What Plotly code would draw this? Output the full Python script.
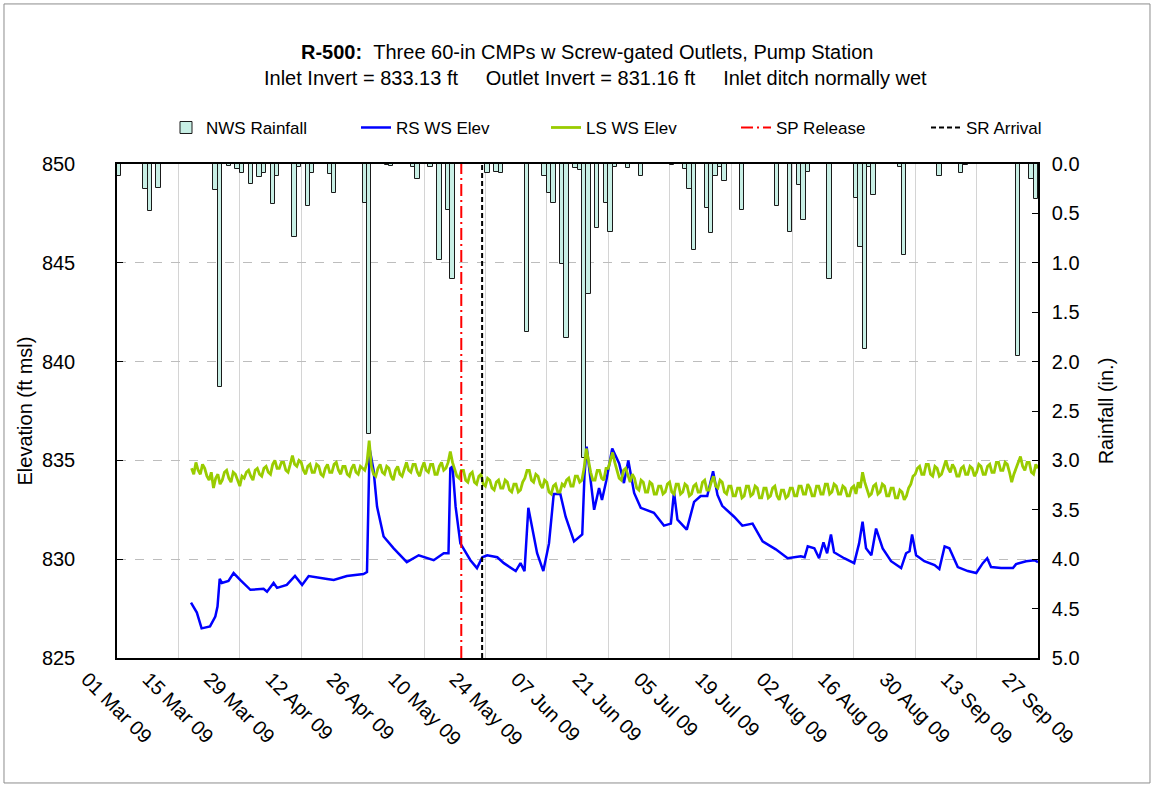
import pandas as pd
import plotly.graph_objects as go

# ---------------- data ----------------
rain_dates = ["2009-03-01", "2009-03-07", "2009-03-08", "2009-03-10", "2009-03-23", "2009-03-24",
              "2009-03-26", "2009-03-28", "2009-03-29", "2009-03-31", "2009-04-02", "2009-04-03",
              "2009-04-05", "2009-04-06", "2009-04-10", "2009-04-11", "2009-04-13", "2009-04-14",
              "2009-04-18", "2009-04-19", "2009-04-26", "2009-04-27", "2009-05-01", "2009-05-02",
              "2009-05-07", "2009-05-08", "2009-05-11", "2009-05-13", "2009-05-15", "2009-05-16",
              "2009-05-24", "2009-05-26", "2009-05-27", "2009-06-02", "2009-06-06", "2009-06-07",
              "2009-06-08", "2009-06-10", "2009-06-11", "2009-06-13", "2009-06-14", "2009-06-15",
              "2009-06-16", "2009-06-18", "2009-06-20", "2009-06-21", "2009-06-22", "2009-06-25",
              "2009-06-28", "2009-07-05", "2009-07-08", "2009-07-09", "2009-07-10", "2009-07-13",
              "2009-07-14", "2009-07-15", "2009-07-16", "2009-07-17", "2009-07-21", "2009-07-29",
              "2009-08-01", "2009-08-03", "2009-08-04", "2009-08-05", "2009-08-10", "2009-08-16",
              "2009-08-17", "2009-08-18", "2009-08-19", "2009-08-20", "2009-08-26", "2009-08-27",
              "2009-09-04", "2009-09-09", "2009-09-10", "2009-09-22", "2009-09-25", "2009-09-26"]
rain_in = [0.12, 0.25, 0.48, 0.24, 0.26, 2.26,
           0.02, 0.05, 0.09, 0.20, 0.13, 0.09,
           0.40, 0.12, 0.74, 0.03, 0.43, 0.09,
           0.10, 0.29, 0.39, 2.73, 0.01, 0.02,
           0.03, 0.15, 0.03, 0.97, 0.47, 1.16,
           0.09, 0.08, 0.09, 1.70, 0.12, 0.29,
           0.39, 1.01, 1.76, 0.04, 0.06, 2.98,
           1.32, 0.65, 0.39, 0.69, 0.03, 0.04,
           0.12, 0.01, 0.05, 0.25, 0.87, 0.45,
           0.70, 0.12, 0.03, 0.17, 0.47, 0.42,
           0.69, 0.21, 0.57, 0.08, 1.16, 0.34,
           0.84, 1.87, 0.03, 0.31, 0.03, 0.92,
           0.12, 0.09, 0.01, 1.94, 0.15, 0.35]

rs_times = ["2009-03-17 21:00", "2009-03-19 05:00", "2009-03-20 07:00", "2009-03-22 05:00",
            "2009-03-23 10:00", "2009-03-23 22:00", "2009-03-24 10:00", "2009-03-24 22:00",
            "2009-03-26 10:00", "2009-03-27 14:00", "2009-03-29 02:00", "2009-03-31 10:00",
            "2009-04-03 10:00", "2009-04-04 05:00", "2009-04-05 17:00", "2009-04-06 12:00",
            "2009-04-08 17:00", "2009-04-10 14:00", "2009-04-12 05:00", "2009-04-13 17:00",
            "2009-04-17 22:00", "2009-04-19 10:00", "2009-04-22 10:00", "2009-04-26 05:00",
            "2009-04-27 00:00", "2009-04-27 07:00", "2009-04-27 14:00", "2009-04-28 12:00",
            "2009-04-29 07:00", "2009-04-30 19:00", "2009-05-03 02:00", "2009-05-06 02:00",
            "2009-05-08 19:00", "2009-05-12 05:00", "2009-05-14 12:00", "2009-05-15 14:00",
            "2009-05-16 00:00", "2009-05-16 12:00", "2009-05-17 05:00", "2009-05-18 07:00",
            "2009-05-20 14:00", "2009-05-22 02:00", "2009-05-23 07:00", "2009-05-24 10:00",
            "2009-05-26 17:00", "2009-05-28 05:00", "2009-05-30 22:00", "2009-06-01 00:00",
            "2009-06-01 22:00", "2009-06-02 19:00", "2009-06-03 17:00", "2009-06-04 19:00",
            "2009-06-06 05:00", "2009-06-07 12:00", "2009-06-08 14:00", "2009-06-10 02:00",
            "2009-06-11 07:00", "2009-06-13 05:00", "2009-06-15 02:00", "2009-06-15 14:00",
            "2009-06-16 02:00", "2009-06-16 14:00", "2009-06-17 19:00", "2009-06-18 22:00",
            "2009-06-19 14:00", "2009-06-20 14:00", "2009-06-21 22:00", "2009-06-23 12:00",
            "2009-06-24 14:00", "2009-06-25 14:00", "2009-06-26 22:00", "2009-06-28 10:00",
            "2009-07-01 10:00", "2009-07-03 17:00", "2009-07-05 07:00", "2009-07-06 00:00",
            "2009-07-06 19:00", "2009-07-08 22:00", "2009-07-10 14:00", "2009-07-12 02:00",
            "2009-07-13 14:00", "2009-07-14 22:00", "2009-07-15 22:00", "2009-07-17 00:00",
            "2009-07-19 17:00", "2009-07-21 14:00", "2009-07-23 22:00", "2009-07-26 05:00",
            "2009-07-29 05:00", "2009-07-31 22:00", "2009-08-03 22:00", "2009-08-04 19:00",
            "2009-08-05 12:00", "2009-08-07 00:00", "2009-08-08 02:00", "2009-08-09 02:00",
            "2009-08-09 22:00", "2009-08-10 19:00", "2009-08-11 12:00", "2009-08-13 19:00",
            "2009-08-16 02:00", "2009-08-17 05:00", "2009-08-18 00:00", "2009-08-18 19:00",
            "2009-08-20 00:00", "2009-08-21 02:00", "2009-08-22 14:00", "2009-08-24 12:00",
            "2009-08-26 19:00", "2009-08-27 22:00", "2009-08-28 17:00", "2009-08-29 07:00",
            "2009-08-30 05:00", "2009-09-01 02:00", "2009-09-03 10:00", "2009-09-04 12:00",
            "2009-09-05 17:00", "2009-09-06 19:00", "2009-09-08 17:00", "2009-09-11 00:00",
            "2009-09-12 22:00", "2009-09-14 10:00", "2009-09-15 10:00", "2009-09-16 07:00",
            "2009-09-18 14:00", "2009-09-21 07:00", "2009-09-22 00:00", "2009-09-24 07:00",
            "2009-09-26 05:00", "2009-09-27 00:00"]
rs_elev = [827.8, 827.3, 826.5, 826.6,
           827.1, 827.6, 829.0, 828.8,
           828.9, 829.3, 828.95, 828.45,
           828.5, 828.35, 828.8, 828.55,
           828.7, 829.15, 828.7, 829.15,
           829.0, 828.95, 829.15, 829.25,
           829.35, 833.7, 835.6, 834.5,
           832.66, 831.15, 830.55, 829.85,
           830.2, 829.95, 830.3, 830.3,
           834.6, 834.7, 832.66, 830.8,
           829.95, 829.55, 830.1, 830.2,
           830.1, 829.8, 829.4, 829.8,
           829.4, 832.6, 831.5, 830.3,
           829.4, 830.8, 833.3, 833.3,
           832.15, 830.9, 831.25, 834.2,
           835.7, 834.7, 832.5, 833.6,
           833.0, 834.0, 835.6, 834.85,
           833.85, 835.0, 833.35, 832.6,
           832.35, 831.7, 831.8, 833.4,
           832.0, 831.5, 832.9, 833.2,
           833.2, 834.45, 833.25, 832.7,
           832.15, 831.7, 831.8, 830.9,
           830.5, 830.05, 830.15, 830.1,
           830.65, 830.55, 830.05, 830.85,
           830.3, 831.25, 830.35, 830.05,
           829.8, 830.8, 831.9, 830.55,
           830.2, 831.55, 830.55, 829.9,
           829.55, 830.3, 830.4, 831.25,
           830.2, 829.9, 829.7, 829.5,
           830.65, 830.55, 829.6, 829.4,
           829.3, 829.8, 830.05, 829.6,
           829.55, 829.55, 829.75, 829.9,
           829.95, 829.85]

ls_start = "2009-03-18"   # readings every 12 hours from this date
ls_elev = [834.6, 834.3, 834.9, 834.5, 834.3, 834.8, 834.6, 834.2, 834.0, 834.4,
           833.6, 834.1, 834.3, 833.8, 834.0, 834.4, 834.5, 834.1, 833.9, 834.4,
           834.3, 834.0, 833.7, 834.2, 834.1, 834.4, 834.5, 834.2, 834.0, 834.5,
           834.6, 834.3, 834.2, 834.6, 834.7, 834.4, 834.3, 834.8, 835.0, 834.6,
           834.6, 834.9, 834.9, 834.5, 834.4, 834.8, 835.25, 834.8, 834.7, 835.0,
           834.9, 834.5, 834.3, 834.7, 834.8, 834.4, 834.4, 834.8, 834.7, 834.3,
           834.2, 834.6, 834.8, 834.4, 834.4, 834.8, 834.9, 834.5, 834.3, 834.7,
           834.7, 834.3, 834.2, 834.6, 834.8, 834.4, 834.3, 834.7, 834.6, 834.5,
           834.9, 836.0, 834.7, 834.3, 834.2, 834.6, 834.8, 834.4, 834.3, 834.7,
           834.6, 834.2, 834.0, 834.5, 834.7, 834.3, 834.2, 834.6, 834.9, 834.5,
           834.4, 834.8, 834.8, 834.4, 834.2, 834.6, 834.9, 834.5, 834.4, 834.8,
           834.8, 834.3, 834.3, 834.7, 834.9, 834.5, 834.6, 834.9, 835.45, 834.9,
           834.5, 834.2, 834.1, 834.5, 834.5, 834.0, 833.9, 834.3, 834.4, 833.9,
           833.8, 834.2, 834.3, 833.8, 833.7, 834.1, 834.0, 833.6, 833.5, 833.9,
           834.0, 833.6, 833.6, 834.0, 833.9, 833.5, 833.4, 833.8, 833.8, 833.4,
           833.5, 833.9, 834.1, 834.5, 834.5, 834.0, 833.9, 834.3, 834.2, 833.8,
           833.6, 834.0, 833.9, 833.4, 833.3, 833.7, 833.8, 833.4, 833.4, 833.8,
           833.7, 834.0, 834.1, 833.7, 833.7, 834.2, 834.2, 833.9, 834.0, 834.6,
           835.6, 834.9, 834.4, 834.0, 834.0, 834.5, 834.5, 834.1, 834.0, 834.6,
           834.6, 835.0, 835.4, 834.9, 834.5, 834.1, 834.0, 834.5, 834.6, 834.2,
           833.9, 834.3, 834.1, 833.6, 833.5, 834.0, 833.9, 833.4, 833.4, 833.9,
           833.8, 833.3, 833.3, 833.7, 833.7, 833.3, 833.4, 833.8, 833.9, 833.4,
           833.3, 833.8, 833.8, 833.3, 833.4, 833.8, 833.7, 833.2, 833.3, 833.7,
           833.8, 833.4, 833.4, 833.9, 834.0, 833.5, 833.5, 833.9, 834.2, 833.7,
           833.6, 834.0, 833.9, 833.4, 833.3, 833.7, 833.7, 833.2, 833.2, 833.6,
           833.6, 833.1, 833.2, 833.7, 833.7, 833.2, 833.3, 833.7, 833.6, 833.1,
           833.1, 833.6, 833.6, 833.1, 833.2, 833.6, 833.7, 833.2, 833.0, 833.5,
           833.5, 833.1, 833.2, 833.6, 833.6, 833.2, 833.2, 833.7, 833.7, 833.3,
           833.3, 833.8, 833.6, 833.2, 833.2, 833.7, 833.7, 833.3, 833.3, 833.8,
           833.8, 833.3, 833.4, 833.8, 833.7, 833.3, 833.3, 833.7, 833.6, 833.2,
           833.2, 833.6, 833.7, 833.3, 833.9, 833.6, 834.4, 833.9, 833.6, 833.2,
           833.3, 833.7, 833.8, 833.3, 833.4, 833.8, 833.7, 833.2, 833.2, 833.6,
           833.6, 833.1, 833.1, 833.5, 833.4, 833.0, 833.2, 833.6, 833.8, 834.2,
           834.3, 834.6, 834.7, 834.3, 834.3, 834.8, 834.8, 834.3, 834.2, 834.7,
           834.6, 834.2, 834.3, 834.7, 835.0, 834.6, 834.4, 834.8, 834.6, 834.2,
           834.2, 834.6, 834.7, 834.3, 834.3, 834.7, 834.6, 834.2, 834.4, 834.8,
           834.7, 834.3, 834.3, 834.7, 834.8, 834.4, 834.4, 834.9, 834.9, 834.5,
           834.5, 834.9, 834.8, 834.4, 833.9, 834.3, 834.6, 834.9, 835.2, 834.7,
           834.5, 834.9, 834.9, 834.4, 834.3, 834.8, 834.6]

sp_release = "2009-05-18 12:00"
sr_arrival = "2009-05-23 06:00"
elev_range = [825, 850]
rain_range = [5, 0]

# ---------------- figure ----------------
FONT = "Arial, 'Liberation Sans', sans-serif"
rain_x = pd.to_datetime(rain_dates) + pd.Timedelta(hours=12)
ls_x = pd.date_range(ls_start, periods=len(ls_elev), freq="12h")

fig = go.Figure()
fig.add_trace(go.Bar(x=rain_x, y=rain_in, name="NWS Rainfall", yaxis="y",
                     width=86400000, marker=dict(color="#c8efe5", line=dict(color="#1a1a1a", width=1))))
fig.add_trace(go.Scatter(x=pd.to_datetime(rs_times), y=rs_elev, name="RS WS Elev", yaxis="y2",
                         mode="lines", line=dict(color="#0000ff", width=2.5)))
fig.add_trace(go.Scatter(x=ls_x, y=ls_elev, name="LS WS Elev", yaxis="y2",
                         mode="lines", line=dict(color="#99cc00", width=2.8)))
fig.add_trace(go.Scatter(x=[sp_release, sp_release], y=elev_range, name="SP Release", yaxis="y2",
                         mode="lines", line=dict(color="#ff0000", width=2, dash="12px,4px,2px,4px")))
fig.add_trace(go.Scatter(x=[sr_arrival, sr_arrival], y=elev_range, name="SR Arrival", yaxis="y2",
                         mode="lines", line=dict(color="#000000", width=2, dash="5px,3px")))

fig.update_layout(
    width=1155, height=787,
    margin=dict(l=117, r=117, t=164, b=129),
    paper_bgcolor="white", plot_bgcolor="white",
    font=dict(family=FONT, size=20, color="black"),
    bargap=0,
    showlegend=True,
    legend=dict(orientation="h", x=1.0847, xanchor="right", y=1.073, yanchor="middle",
                font=dict(size=17), entrywidth=145, entrywidthmode="pixels",
                bgcolor="rgba(0,0,0,0)", traceorder="normal"),
    xaxis=dict(type="date", range=["2009-03-01", "2009-09-27"],
               tick0="2009-03-01", dtick=14 * 86400000, tickformat="%d %b %y",
               tickangle=45, tickfont=dict(size=20),
               showgrid=True, gridcolor="#d4d4d4", gridwidth=1,
               showline=True, linecolor="black", linewidth=1.5, mirror=True,
               ticks="", ticklabelshift=-30),
    yaxis=dict(range=rain_range, side="right", dtick=0.5, tickformat=".1f",
               ticks="inside", ticklen=6, tickcolor="black",
               showgrid=False, zeroline=False,
               showline=True, linecolor="black", linewidth=1.5,
               ticklabelstandoff=8,
               title=dict(text="Rainfall (in.)", font=dict(size=20), standoff=20)),
    yaxis2=dict(range=elev_range, side="left", overlaying="y", dtick=5,
                ticks="inside", ticklen=6, tickcolor="black",
                showgrid=True, gridcolor="#bdbdbd", griddash="dash", gridwidth=1,
                zeroline=False,
                showline=True, linecolor="black", linewidth=1.5,
                ticklabelstandoff=36,
                title=dict(text="Elevation (ft msl)", font=dict(size=20), standoff=4)),
)

fig.add_annotation(xref="paper", yref="paper", x=0.51, y=1.227, xanchor="center", yanchor="middle",
                   text="<b>R-500:</b>\u00a0\u00a0Three 60-in CMPs w Screw-gated Outlets, Pump Station",
                   showarrow=False, font=dict(size=20))
fig.add_annotation(xref="paper", yref="paper", x=0.52, y=1.174, xanchor="center", yanchor="middle",
                   text="Inlet Invert = 833.13 ft\u00a0\u00a0\u00a0\u00a0\u00a0Outlet Invert = 831.16 ft"
                        "\u00a0\u00a0\u00a0\u00a0\u00a0Inlet ditch normally wet",
                   showarrow=False, font=dict(size=20))

# outer frame of the chart
fig.add_shape(type="rect", xref="paper", yref="paper",
              x0=-0.1227, x1=1.1216, y0=-0.253, y1=1.324,
              line=dict(color="#8c8c8c", width=1), layer="below")

fig.write_html("out.html", config={"displayModeBar": False},
               post_script="document.body.style.margin='0px';")
